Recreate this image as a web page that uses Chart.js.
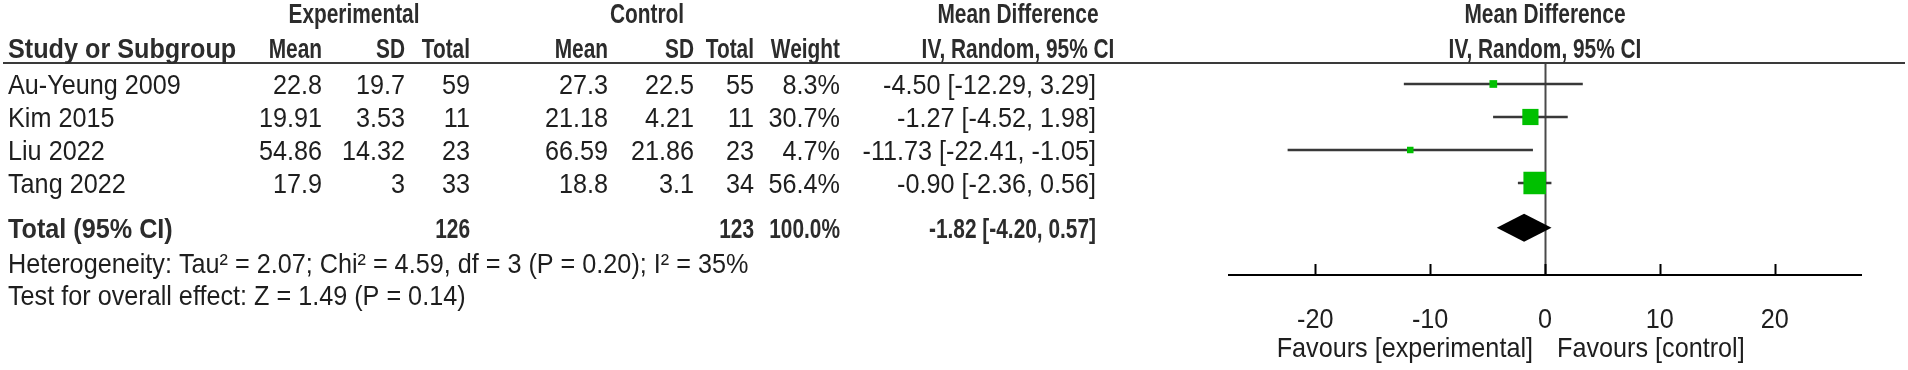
<!DOCTYPE html>
<html>
<head>
<meta charset="utf-8">
<script src="https://cdn.jsdelivr.net/npm/chart.js@4.4.1/dist/chart.umd.min.js"></script>
<style>
  html, body { margin: 0; padding: 0; background: #fff; overflow: hidden; }
  #wrap { width: 1908px; height: 370px; position: relative; }
</style>
</head>
<body>
<div id="wrap"><canvas id="forest"></canvas></div>
<script>
// ---- data -------------------------------------------------------------------
const studies  = ['Au-Yeung 2009', 'Kim 2015', 'Liu 2022', 'Tang 2022'];
const expMean  = ['22.8', '19.91', '54.86', '17.9'];
const expSD    = ['19.7', '3.53', '14.32', '3'];
const expN     = [59, 11, 23, 33];
const ctlMean  = ['27.3', '21.18', '66.59', '18.8'];
const ctlSD    = ['22.5', '4.21', '21.86', '3.1'];
const ctlN     = [55, 11, 23, 34];
const weights  = [8.3, 30.7, 4.7, 56.4];
const md       = [-4.50, -1.27, -11.73, -0.90];
const ciLow    = [-12.29, -4.52, -22.41, -2.36];
const ciHigh   = [3.29, 1.98, -1.05, 0.56];

const pooled      = { md: -1.82, lo: -4.20, hi: 0.57 };
const totalWeight = 100.0;
const heterogeneity = 'Heterogeneity: Tau\u00b2 = 2.07; Chi\u00b2 = 4.59, df = 3 (P = 0.20); I\u00b2 = 35%';
const overallTest   = 'Test for overall effect: Z = 1.49 (P = 0.14)';
const xTicks   = [-20, -10, 0, 10, 20];
const favLeft  = 'Favours [experimental]';
const favRight = 'Favours [control]';

// ---- layout -----------------------------------------------------------------
// RevMan draws with a narrow sans; emulate it by squeezing Liberation Sans
const FONT   = '"Liberation Sans", Arial, sans-serif';
const REG    = { size: 28, sx: 0.90, weight: '' };
const BOLD   = { size: 28, sx: 0.745, weight: 'bold ' };
const BOLD_L = { size: 28, sx: 0.90, weight: 'bold ' };   // first column labels
const INK    = '#1e1e1e';
const HEAD   = '#2c2c2c';
const GREEN  = '#00c000';
const TOTAL_ROW = 4.36;                        // half-empty gap before the total
const LEFT = 8;
// right edges of the table columns
const COL = { eMean: 322, eSD: 405, eN: 470, cMean: 608, cSD: 694, cN: 754, w: 840, ci: 1096 };
const MD_HEAD = 1018;

const ci = (m, l, h) => `${m.toFixed(2)} [${l.toFixed(2)}, ${h.toFixed(2)}]`;
const boxSide = w => Math.max(6.5, 24 * Math.sqrt(w / Math.max(...weights)) - 1.5);

function txt(ctx, s, x, y, align, f) {
  ctx.save();
  ctx.font = f.weight + f.size + 'px ' + FONT;
  ctx.textAlign = align;
  ctx.textBaseline = 'middle';
  ctx.translate(x, y);
  ctx.scale(f.sx, 1);
  ctx.fillText(s, 0, 0);
  ctx.restore();
}

// ---- plugin: table, reference line, axis, diamond ---------------------------
const forestPlugin = {
  id: 'forest',
  beforeDatasetsDraw(chart) {
    const { ctx, chartArea: a, scales: { x } } = chart;
    const x0 = Math.round(x.getPixelForValue(0)) + 0.5;
    ctx.save();
    ctx.strokeStyle = '#4a4a4a';
    ctx.lineWidth = 2;
    ctx.beginPath();
    ctx.moveTo(x0, a.top);
    ctx.lineTo(x0, a.bottom);
    ctx.stroke();
    ctx.restore();
  },
  afterDatasetsDraw(chart) {
    const { ctx, chartArea: a, scales: { x, y } } = chart;
    ctx.save();

    // pooled diamond
    const yc = y.getPixelForValue(TOTAL_ROW);
    const h = 14;
    ctx.fillStyle = '#000';
    ctx.beginPath();
    ctx.moveTo(x.getPixelForValue(pooled.lo), yc);
    ctx.lineTo(x.getPixelForValue(pooled.md), yc - h);
    ctx.lineTo(x.getPixelForValue(pooled.hi), yc);
    ctx.lineTo(x.getPixelForValue(pooled.md), yc + h);
    ctx.closePath();
    ctx.fill();

    // header rule
    ctx.strokeStyle = '#3a3a3a';
    ctx.lineWidth = 2;
    ctx.beginPath();
    ctx.moveTo(3, a.top);
    ctx.lineTo(1905, a.top);
    ctx.stroke();

    // x axis with upward ticks
    ctx.strokeStyle = '#000';
    ctx.beginPath();
    ctx.moveTo(a.left, a.bottom);
    ctx.lineTo(a.right, a.bottom);
    for (const t of xTicks) {
      const px = Math.round(x.getPixelForValue(t)) + 0.5;
      ctx.moveTo(px, a.bottom - 11);
      ctx.lineTo(px, a.bottom);
    }
    ctx.stroke();

    ctx.fillStyle = INK;
    for (const t of xTicks) txt(ctx, String(t), x.getPixelForValue(t), 320, 'center', REG);
    const xz = x.getPixelForValue(0);
    txt(ctx, favLeft, xz - 12, 349, 'right', REG);
    txt(ctx, favRight, xz + 12, 349, 'left', REG);

    // headers
    ctx.fillStyle = HEAD;
    txt(ctx, 'Experimental', 354, 15, 'center', BOLD);
    txt(ctx, 'Control', 647, 15, 'center', BOLD);
    txt(ctx, 'Mean Difference', MD_HEAD, 15, 'center', BOLD);
    txt(ctx, 'Mean Difference', xz, 15, 'center', BOLD);
    const hy = 50;
    txt(ctx, 'Study or Subgroup', LEFT, hy, 'left', BOLD_L);
    txt(ctx, 'Mean', COL.eMean, hy, 'right', BOLD);
    txt(ctx, 'SD', COL.eSD, hy, 'right', BOLD);
    txt(ctx, 'Total', COL.eN, hy, 'right', BOLD);
    txt(ctx, 'Mean', COL.cMean, hy, 'right', BOLD);
    txt(ctx, 'SD', COL.cSD, hy, 'right', BOLD);
    txt(ctx, 'Total', COL.cN, hy, 'right', BOLD);
    txt(ctx, 'Weight', COL.w, hy, 'right', BOLD);
    txt(ctx, 'IV, Random, 95% CI', MD_HEAD, hy, 'center', BOLD);
    txt(ctx, 'IV, Random, 95% CI', xz, hy, 'center', BOLD);

    // study rows
    ctx.fillStyle = INK;
    studies.forEach((s, i) => {
      const ry = y.getPixelForValue(i) + 2;
      txt(ctx, s, LEFT, ry, 'left', REG);
      txt(ctx, expMean[i], COL.eMean, ry, 'right', REG);
      txt(ctx, expSD[i], COL.eSD, ry, 'right', REG);
      txt(ctx, String(expN[i]), COL.eN, ry, 'right', REG);
      txt(ctx, ctlMean[i], COL.cMean, ry, 'right', REG);
      txt(ctx, ctlSD[i], COL.cSD, ry, 'right', REG);
      txt(ctx, String(ctlN[i]), COL.cN, ry, 'right', REG);
      txt(ctx, weights[i].toFixed(1) + '%', COL.w, ry, 'right', REG);
      txt(ctx, ci(md[i], ciLow[i], ciHigh[i]), COL.ci, ry, 'right', REG);
    });

    // total row
    const ty = yc + 2;
    ctx.fillStyle = HEAD;
    txt(ctx, 'Total (95% CI)', LEFT, ty, 'left', BOLD_L);
    txt(ctx, String(expN.reduce((p, v) => p + v, 0)), COL.eN, ty, 'right', BOLD);
    txt(ctx, String(ctlN.reduce((p, v) => p + v, 0)), COL.cN, ty, 'right', BOLD);
    txt(ctx, totalWeight.toFixed(1) + '%', COL.w, ty, 'right', BOLD);
    txt(ctx, ci(pooled.md, pooled.lo, pooled.hi), COL.ci, ty, 'right', BOLD);

    ctx.fillStyle = INK;
    txt(ctx, heterogeneity, LEFT, 265, 'left', REG);
    txt(ctx, overallTest, LEFT, 297, 'left', REG);
    ctx.restore();
  },
};

// ---- chart ------------------------------------------------------------------
const ciSets = studies.map((s, i) => ({
  type: 'line',
  label: s,
  data: [{ x: ciLow[i], y: i }, { x: ciHigh[i], y: i }],
  borderColor: '#383838',
  borderWidth: 2.5,
  pointRadius: 0,
  order: 2,
}));

const boxSet = {
  type: 'scatter',
  label: 'MD',
  data: md.map((m, i) => ({ x: m, y: i })),
  pointStyle: 'rect',
  pointRadius: weights.map(w => boxSide(w) / Math.SQRT2),
  backgroundColor: GREEN,
  borderWidth: 0,
  order: 1,
};

new Chart(document.getElementById('forest'), {
  type: 'scatter',
  data: { datasets: [...ciSets, boxSet] },
  options: {
    animation: false,
    responsive: true,
    maintainAspectRatio: false,
    events: [],
    layout: { padding: { left: 1228, right: 46, top: 63, bottom: 95 } },
    plugins: { legend: { display: false }, tooltip: { enabled: false } },
    scales: {
      x: { type: 'linear', min: -27.6, max: 27.6, display: false },
      y: { type: 'linear', min: -0.636, max: 5.788, reverse: true, display: false },
    },
  },
  plugins: [forestPlugin],
});
</script>
</body>
</html>
